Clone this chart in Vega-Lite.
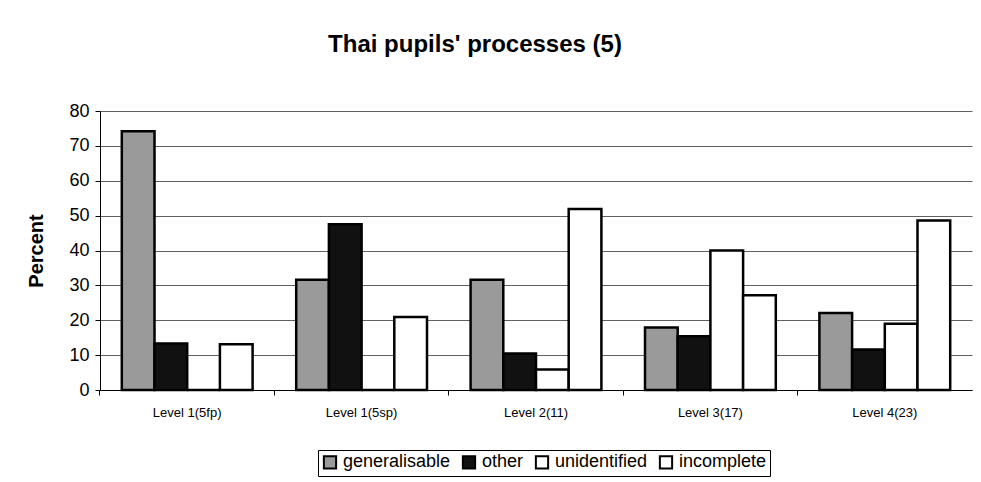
{
  "$schema": "https://vega.github.io/schema/vega-lite/v6.json",
  "width": 872,
  "height": 279,
  "autosize": {"type": "none"},
  "padding": {"left": 100, "top": 111, "right": 9, "bottom": 92},
  "background": "white",
  "config": {
    "font": "Liberation Sans",
    "view": {"stroke": null}
  },
  "title": {
    "text": "Thai pupils' processes (5)",
    "fontSize": 24,
    "fontWeight": "bold",
    "font": "Liberation Sans",
    "color": "#000000",
    "anchor": "middle",
    "dx": -61,
    "offset": 45
  },
  "data": {
    "values": [
      {"level": "Level 1(5fp)", "type": "generalisable", "value": 74.2},
      {"level": "Level 1(5fp)", "type": "other", "value": 13.3},
      {"level": "Level 1(5fp)", "type": "unidentified", "value": 0},
      {"level": "Level 1(5fp)", "type": "incomplete", "value": 13.1},
      {"level": "Level 1(5sp)", "type": "generalisable", "value": 31.6},
      {"level": "Level 1(5sp)", "type": "other", "value": 47.5},
      {"level": "Level 1(5sp)", "type": "unidentified", "value": 0},
      {"level": "Level 1(5sp)", "type": "incomplete", "value": 20.9},
      {"level": "Level 2(11)", "type": "generalisable", "value": 31.6},
      {"level": "Level 2(11)", "type": "other", "value": 10.5},
      {"level": "Level 2(11)", "type": "unidentified", "value": 5.9},
      {"level": "Level 2(11)", "type": "incomplete", "value": 51.9},
      {"level": "Level 3(17)", "type": "generalisable", "value": 17.9},
      {"level": "Level 3(17)", "type": "other", "value": 15.4},
      {"level": "Level 3(17)", "type": "unidentified", "value": 40.0},
      {"level": "Level 3(17)", "type": "incomplete", "value": 27.2},
      {"level": "Level 4(23)", "type": "generalisable", "value": 22.1},
      {"level": "Level 4(23)", "type": "other", "value": 11.6},
      {"level": "Level 4(23)", "type": "unidentified", "value": 19.0},
      {"level": "Level 4(23)", "type": "incomplete", "value": 48.6}
    ]
  },
  "mark": {"type": "bar", "stroke": "#000000", "strokeWidth": 2.5},
  "encoding": {
    "x": {
      "field": "level",
      "type": "nominal",
      "sort": null,
      "scale": {"paddingInner": 0.25, "paddingOuter": 0.125},
      "axis": {
        "title": null,
        "labelAngle": 0,
        "labelFontSize": 13,
        "labelColor": "#000000",
        "labelPadding": 11,
        "domainColor": "#000000",
        "domainWidth": 1,
        "tickColor": "#000000",
        "tickSize": 5,
        "bandPosition": -0.1667
      }
    },
    "xOffset": {
      "field": "type",
      "type": "nominal",
      "sort": ["generalisable", "other", "unidentified", "incomplete"]
    },
    "y": {
      "field": "value",
      "type": "quantitative",
      "scale": {"domain": [0, 80]},
      "axis": {
        "title": "Percent",
        "titleFontSize": 20,
        "titleFontWeight": "bold",
        "titleColor": "#000000",
        "titlePadding": 22,
        "values": [0, 10, 20, 30, 40, 50, 60, 70, 80],
        "labelFontSize": 18,
        "labelColor": "#000000",
        "labelPadding": 6,
        "domainColor": "#000000",
        "tickColor": "#000000",
        "tickSize": 5,
        "grid": true,
        "gridColor": "#606060",
        "gridWidth": 1
      }
    },
    "color": {
      "field": "type",
      "type": "nominal",
      "sort": ["generalisable", "other", "unidentified", "incomplete"],
      "scale": {
        "domain": ["generalisable", "other", "unidentified", "incomplete"],
        "range": ["#9a9a9a", "#111111", "#ffffff", "#ffffff"]
      },
      "legend": {
        "title": null,
        "orient": "none",
        "direction": "horizontal",
        "legendX": 218,
        "legendY": 339,
        "labelFontSize": 18,
        "labelColor": "#000000",
        "symbolType": "square",
        "symbolSize": 150,
        "symbolStrokeColor": "#000000",
        "symbolStrokeWidth": 2,
        "symbolOpacity": 1,
        "columnPadding": 7,
        "labelOffset": 4,
        "strokeColor": "#000000",
        "padding": 3
      }
    }
  }
}
